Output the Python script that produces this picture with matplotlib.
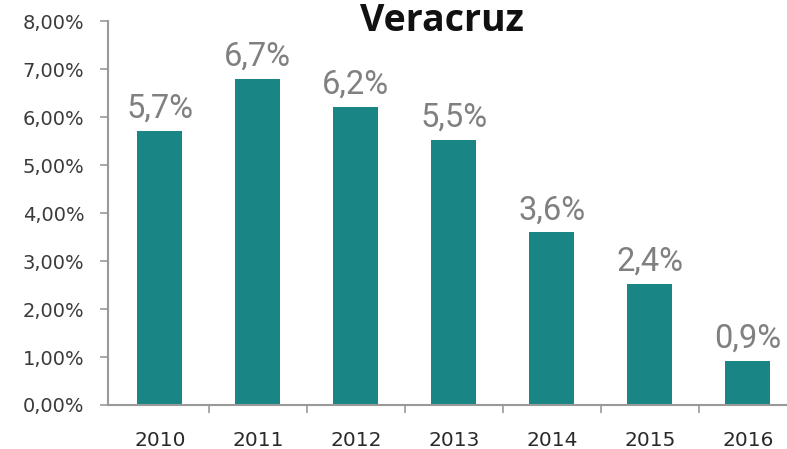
import matplotlib
matplotlib.use("Agg")
import matplotlib.pyplot as plt
import numpy as np

years = ['2010', '2011', '2012', '2013', '2014', '2015', '2016']
values = [5.72, 6.80, 6.22, 5.52, 3.60, 2.53, 0.92]
labels = ['5,7%', '6,7%', '6,2%', '5,5%', '3,6%', '2,4%', '0,9%']
yticks = [0, 1, 2, 3, 4, 5, 6, 7, 8]

fig = plt.figure(figsize=(7.87, 4.49), dpi=100)
# axes runs a little past the right edge, like the original
ax = fig.add_axes([0.137, 0.098, 0.8755, 0.855])

x = np.arange(len(years))
ax.bar(x, values, width=0.46, color='#1a8585', zorder=2)

for xi, v, lab in zip(x, values, labels):
    ax.text(xi, v + 0.27, lab, ha='center', va='baseline', fontsize=23.5,
            color='#808080', family='Roboto')

ax.set_xlim(-0.53, len(years) - 0.5)
ax.set_ylim(0, 8)
ax.set_yticks(yticks)
ax.set_yticklabels([f'{t},00%' for t in yticks], fontsize=14, color='#3a3a3a',
                   family='DejaVu Sans')
ax.set_xticks(x)
ax.set_xticklabels(years, fontsize=14.5, color='#2a2a2a', family='DejaVu Sans')
ax.set_xticks(np.arange(0.5, len(years), 1), minor=True)
ax.tick_params(axis='x', which='major', length=0, pad=19)
ax.tick_params(axis='x', which='minor', length=6, color='#999999', width=1.2)
ax.tick_params(axis='y', length=6, color='#999999', width=1.2, pad=11)

for s in ['top', 'right']:
    ax.spines[s].set_visible(False)
for s in ['left', 'bottom']:
    ax.spines[s].set_color('#999999')
    ax.spines[s].set_linewidth(1.5)

fig.text(0.561, 1 - 31 / 449, 'Veracruz', ha='center', va='baseline', fontsize=27,
         fontweight='bold', color='#111111', family='Open Sans')

fig.savefig('out.png', dpi=100)
